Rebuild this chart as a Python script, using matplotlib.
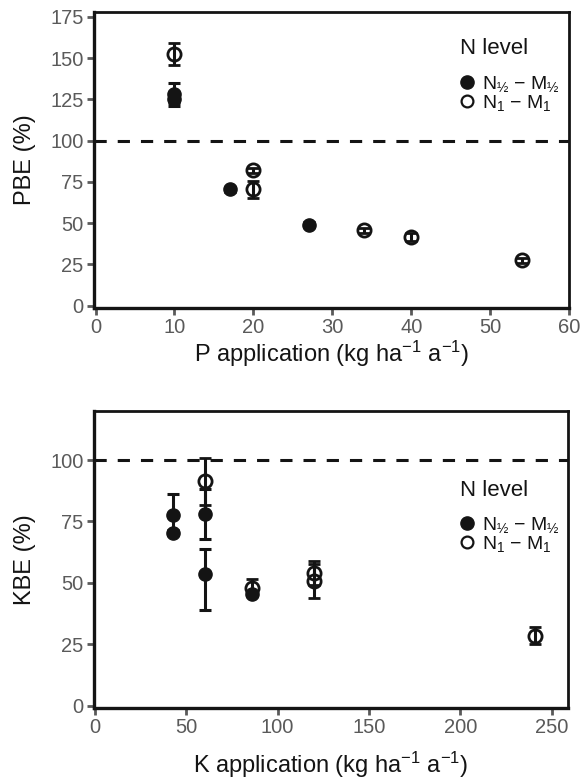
import matplotlib
matplotlib.use("Agg")
import matplotlib.pyplot as plt
from matplotlib.lines import Line2D

plt.rcParams['font.family'] = ['Liberation Sans', 'DejaVu Sans']
plt.rcParams['mathtext.fontset'] = 'custom'
plt.rcParams['mathtext.rm'] = 'Liberation Sans'
plt.rcParams['mathtext.it'] = 'Liberation Sans:italic'

# ---------------- data: P panel ----------------
p_half_x = [10, 10, 17, 27]
p_half_y = [128, 125, 70.5, 49]
p_half_err = [7, 2, 1.5, 1.5]

p_one_x = [10, 20, 20, 34, 40, 54]
p_one_y = [152.5, 82, 70.5, 45.5, 41.5, 27.5]
p_one_err = [6.5, 1.5, 5, 1.5, 2.5, 1.5]

# ---------------- data: K panel ----------------
k_half_x = [43, 43, 60, 60, 86]
k_half_y = [77.7, 70.5, 78, 53.4, 45.5]
k_half_err_lo = [8.4, 1, 10.3, 14.6, 1]
k_half_err_hi = [8.4, 1, 10.3, 10.4, 1]

k_one_x = [60, 86, 120, 120, 241]
k_one_y = [91.3, 48, 54, 50.7, 28.5]
k_one_err = [9.6, 3.4, 4.8, 6.8, 3.5]

p_xticks = [0, 10, 20, 30, 40, 50, 60]
p_yticks = [0, 25, 50, 75, 100, 125, 150, 175]
k_xticks = [0, 50, 100, 150, 200, 250]
k_yticks = [0, 25, 50, 75, 100]

legend_title = "N level"
label_half = r"N$_{\mathrm{½}}$ − M$_{\mathrm{½}}$"
label_one = r"N$_{1}$ − M$_{1}$"

BLACK = '#141414'
GRAY = '#5a5a5a'

W, H = 582, 779
fig = plt.figure(figsize=(W / 100, H / 100), dpi=100)
ax1 = fig.add_axes([94/W, 1-308/H, (569-94)/W, (308-12)/H])
ax2 = fig.add_axes([94/W, 1-708/H, (568-94)/W, (708-411)/H])

ms = 9.5
ekw = dict(ecolor=BLACK, elinewidth=2.2, capsize=4.5, capthick=2.2, linestyle='none')


def style(ax, xticks, yticks, xlim, ylim, xlabel, ylabel, xpad):
    ax.set_xlim(*xlim)
    ax.set_ylim(*ylim)
    ax.set_xticks(xticks)
    ax.set_yticks(yticks)
    for s in ['left', 'bottom']:
        ax.spines[s].set_linewidth(2.4)
        ax.spines[s].set_color(BLACK)
    for s in ['top', 'right']:
        ax.spines[s].set_linewidth(2.0)
        ax.spines[s].set_color(BLACK)
    ax.tick_params(axis='both', direction='out', length=5, width=2.0, color=GRAY,
                   labelcolor=GRAY, labelsize=14.5, pad=2.5)
    ax.set_xlabel(xlabel, fontsize=17, color=BLACK, labelpad=xpad)
    ax.set_ylabel(ylabel, fontsize=17, color=BLACK, labelpad=10.5)
    ax.axhline(100, color=BLACK, lw=2.2, dashes=(4, 3.6), zorder=1)


def legend(ax, title_y, mid_y):
    fig.text(460/W, 1 - title_y/H, legend_title, fontsize=16, color=BLACK,
             ha='left', va='center')
    h = [Line2D([], [], marker='o', ls='none', color=BLACK, mfc=BLACK, ms=9.5),
         Line2D([], [], marker='o', ls='none', color=BLACK, mfc='none', ms=8.5, mew=1.6)]
    lg = ax.legend(h, [label_half, label_one], loc='center left',
                   bbox_to_anchor=(455.5/W, 1 - mid_y/H), bbox_transform=fig.transFigure,
                   frameon=False, fontsize=14, handletextpad=0.15, labelspacing=-0.05,
                   borderaxespad=0, borderpad=0, handlelength=1.2)
    for t in lg.get_texts():
        t.set_color(BLACK)


# ---- top panel
ax1.errorbar(p_half_x, p_half_y, yerr=p_half_err, fmt='o', color=BLACK, mfc=BLACK,
             mec=BLACK, ms=ms, zorder=3, **ekw)
ax1.errorbar(p_one_x, p_one_y, yerr=p_one_err, fmt='o', color=BLACK, mfc='none',
             mec=BLACK, ms=ms, mew=2.0, zorder=4, **ekw)
style(ax1, p_xticks, p_yticks, (-0.2, 60), (-1.5, 178),
      r"P application (kg ha$^{-1}$ a$^{-1}$)", "PBE (%)", 1)
legend(ax1, 49, 94)

# ---- bottom panel
ax2.errorbar(k_half_x, k_half_y, yerr=[k_half_err_lo, k_half_err_hi], fmt='o', color=BLACK,
             mfc=BLACK, mec=BLACK, ms=ms, zorder=3, **ekw)
ax2.errorbar(k_one_x, k_one_y, yerr=k_one_err, fmt='o', color=BLACK, mfc='none',
             mec=BLACK, ms=ms, mew=2.0, zorder=4, **ekw)
style(ax2, k_xticks, k_yticks, (-0.5, 259), (-1, 120),
      r"K application (kg ha$^{-1}$ a$^{-1}$)", "KBE (%)", 9)
legend(ax2, 490, 535)

fig.savefig("out.png", dpi=100)
